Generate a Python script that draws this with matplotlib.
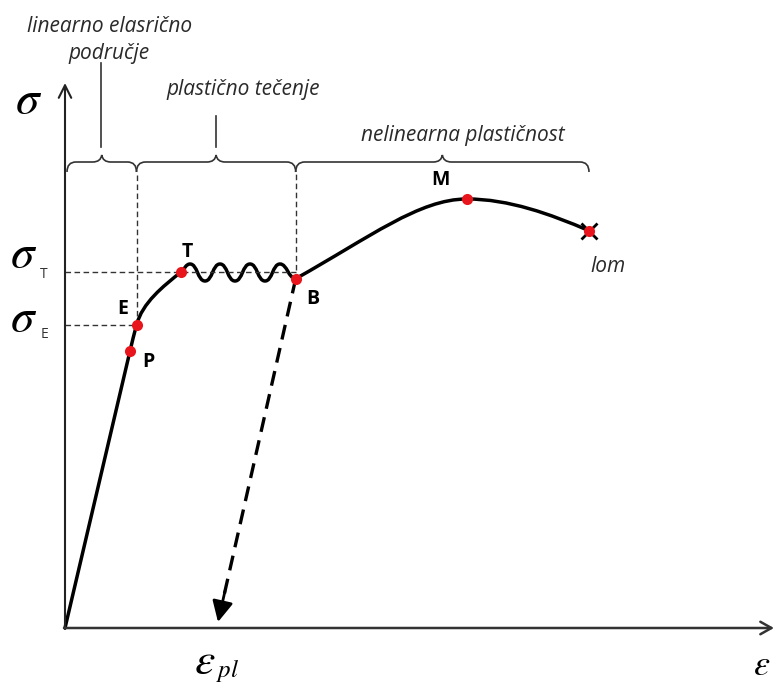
import matplotlib
matplotlib.use("Agg")
import matplotlib.pyplot as plt
import numpy as np
from matplotlib.path import Path
from matplotlib.patches import PathPatch

plt.rcParams['mathtext.fontset'] = 'stix'

# schematic stress-strain curve, knot points (strain, stress) and tangent slopes
knot_eps = [0, 65, 71.5, 116, 125, 140, 155, 170, 185, 200, 215, 230.7, 401.7, 524]
knot_sig = [0, 277, 303, 356, 364, 347, 364, 347, 364, 347, 364, 349.3, 429, 397.3]
slope_in = [4.26, 4.26, 3.8, 0.8, 0, 0, 0, 0, 0, 0, 0, 0, 0, -0.43]
slope_out = [4.26, 4.26, 3.8, 0.8, 0, 0, 0, 0, 0, 0, 0, 0.56, 0, -0.43]
# segment index -> (reach at start, reach at end) as fraction of the chord
reach = {11: (0.45, 0.25)}

# marked points
point_names = ['P', 'E', 'T', 'B', 'M']
point_eps = [65, 71.5, 116, 230.7, 401.7]
point_sig = [277, 303, 356, 349.3, 429]
lom_eps, lom_sig = 524, 397.3

sigma_T = 356
sigma_E = 303
eps_pl = 153

# regions above the curve (start, end) in strain
region_bounds = [0, 71.5, 230.7, 524]
region_names = ['linearno elasrično\npodručje', 'plastično tečenje', 'nelinearna plastičnost']


def unit(m):
    v = np.array([1.0, m])
    return v / np.hypot(*v)


def curve_path(xs, ys, m_in, m_out):
    verts = [(xs[0], ys[0])]
    codes = [Path.MOVETO]
    for i in range(len(xs) - 1):
        p0 = np.array([xs[i], ys[i]])
        p1 = np.array([xs[i + 1], ys[i + 1]])
        ra, rb = reach.get(i, (1 / 3, 1 / 3))
        L = np.hypot(*(p1 - p0))
        c1 = p0 + ra * L * unit(m_out[i])
        c2 = p1 - rb * L * unit(m_in[i + 1])
        verts += [tuple(c1), tuple(c2), tuple(p1)]
        codes += [Path.CURVE4] * 3
    return Path(verts, codes)


def brace_path(x0, x1, y, h=7, drop=10, r=9):
    xm = (x0 + x1) / 2
    verts = [(x0, y - drop), (x0, y), (x0 + r, y),
             (xm - r, y), (xm - 1, y), (xm, y + h),
             (xm + 1, y), (xm + r, y),
             (x1 - r, y), (x1, y), (x1, y - drop)]
    codes = [Path.MOVETO, Path.CURVE3, Path.CURVE3,
             Path.LINETO, Path.CURVE3, Path.CURVE3,
             Path.CURVE3, Path.CURVE3,
             Path.LINETO, Path.CURVE3, Path.CURVE3]
    return Path(verts, codes)


fig = plt.figure(figsize=(7.76, 6.83), dpi=100)
ax = fig.add_axes([0, 0, 1, 1])
ax.set_xlim(-65, 711)
ax.set_ylim(-55, 628)
ax.axis('off')

axis_col = '#222222'
guide = dict(color='#333333', lw=1.0, dashes=(4, 2.5))

# axes with open arrow heads
ax.annotate('', xy=(0, 545), xytext=(0, -1),
            arrowprops=dict(arrowstyle='->,head_length=0.9,head_width=0.45',
                            lw=1.5, color=axis_col, shrinkA=0, shrinkB=0))
ax.annotate('', xy=(709, 0), xytext=(-1, 0),
            arrowprops=dict(arrowstyle='->,head_length=0.8,head_width=0.45',
                            lw=1.8, color='#333333', shrinkA=0, shrinkB=0))

# guide lines
ax.plot([0, point_eps[3]], [sigma_T, sigma_T], **guide)
ax.plot([0, point_eps[1]], [sigma_E, sigma_E], **guide)
brace_y = 466
ax.plot([point_eps[1], point_eps[1]], [point_sig[1], brace_y - 10], **guide)
ax.plot([point_eps[3], point_eps[3]], [point_sig[3], brace_y - 10], **guide)

# braces for the regions
for i in range(len(region_names)):
    x0 = region_bounds[i] + (2 if i == 0 else 0)
    ax.add_patch(PathPatch(brace_path(x0, region_bounds[i + 1], brace_y),
                           fill=False, lw=1.2, color='#333333'))

xm = [(region_bounds[i] + region_bounds[i + 1]) / 2 for i in range(3)]
ax.plot([xm[0], xm[0]], [481, 565], color='#333333', lw=1.2)
ax.plot([xm[1], xm[1]], [481, 512], color='#333333', lw=1.2)

txt = dict(family='Open Sans', style='italic', fontsize=15, color='#2a2a2a',
           ha='center', va='center')
ax.text(45, 601, 'linearno elasrično', **txt)
ax.text(44, 575, 'područje', **txt)
ax.text(xm[1] + 27, 538, region_names[1], **txt)
ax.text(xm[2] + 20, 493, region_names[2], **txt)
ax.text(lom_eps + 19, lom_sig - 36, 'lom', **txt)

# unloading line down to the plastic strain
B = (point_eps[3], point_sig[3])
tip = (eps_pl, 6)
d = np.array(tip) - np.array(B)
mid = np.array(B) + d * 0.93
ax.plot([B[0], mid[0]], [B[1], mid[1]], color='black', lw=2.4, dashes=(4.5, 2.6))
ax.annotate('', xy=tip, xytext=tuple(mid - d * 0.02),
            arrowprops=dict(arrowstyle='-|>,head_length=0.9,head_width=0.45',
                            lw=2.0, color='black', shrinkA=0, shrinkB=0,
                            mutation_scale=14))

# main curve
ax.add_patch(PathPatch(curve_path(knot_eps, knot_sig, slope_in, slope_out),
                       fill=False, lw=2.5, color='black', capstyle='round',
                       joinstyle='round'))

# fracture cross and points
ax.plot(lom_eps, lom_sig, marker='x', ms=12, mew=2.0, color='black')
ax.plot(point_eps + [lom_eps], point_sig + [lom_sig], 'o', ms=8,
        color='#e8161c', mec='none', zorder=5)

lab = dict(family='Open Sans', weight='bold', fontsize=14, color='black',
           ha='center', va='center')
offsets = {'P': (18, -11), 'E': (-13.5, 16), 'T': (6, 20), 'B': (17, -20), 'M': (-26, 19)}
for n, x, y in zip(point_names, point_eps, point_sig):
    ox, oy = offsets[n]
    ax.text(x + ox, y + oy, n, **lab)

# axis symbols
sym = dict(fontsize=34, ha='center', va='center')
sub = dict(family='Open Sans', fontsize=10, color='#333333', ha='center', va='center')
ax.text(-36, 527, r'$\sigma$', **sym)
ax.text(-41, 373, r'$\sigma$', **sym)
ax.text(-21, 353, 'T', **sub)
ax.text(-41, 310, r'$\sigma$', **sym)
ax.text(-21, 294, 'E', **sub)
ax.text(697, -37, r'$\varepsilon$', fontsize=26, ha='center', va='center')
ax.text(140, -33, r'$\varepsilon$', fontsize=33, ha='center', va='center')
ax.text(163, -42, r'$pl$', fontsize=18, ha='center', va='center')

fig.savefig('out.png', dpi=100)
